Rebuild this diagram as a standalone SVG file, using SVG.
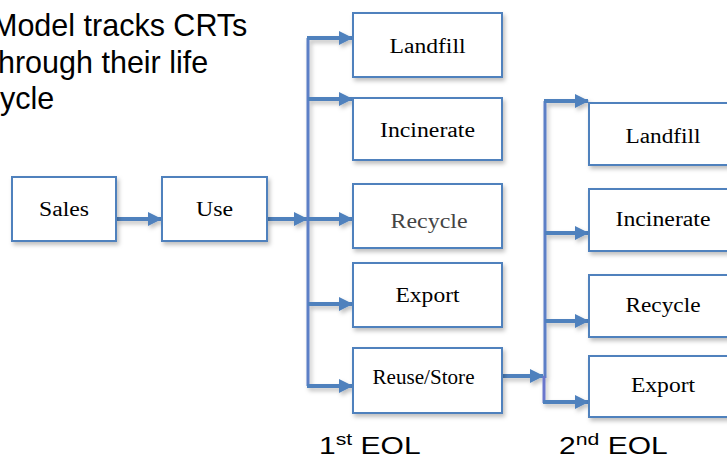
<svg xmlns="http://www.w3.org/2000/svg" width="727" height="463" viewBox="0 0 727 463">
<defs>
<filter id="sh" x="-20%" y="-20%" width="140%" height="160%">
<feDropShadow dx="2" dy="3" stdDeviation="2" flood-color="#000" flood-opacity="0.25"/>
</filter>
<marker id="ah" markerWidth="14" markerHeight="14" refX="13" refY="7" orient="auto" markerUnits="userSpaceOnUse">
<path d="M0,0 L14,7 L0,14 Z" fill="#4F81BD"/>
</marker>
</defs>
<style>
.box{fill:#fff;stroke:#4F81BD;stroke-width:2;filter:url(#sh)}
.lbl{font-family:"Liberation Serif","Times New Roman",serif;font-size:20px;fill:#000;text-anchor:middle}
.big{font-family:"Liberation Sans",Arial,sans-serif;font-size:30.5px;fill:#000}
.eol{font-family:"Liberation Sans",Arial,sans-serif;font-size:24px;fill:#000}
.arr{fill:none;stroke:#4F81BD;stroke-width:4;marker-end:url(#ah)}
.trk{fill:none;stroke:#5B7FC6;stroke-width:3}
</style>
<g id="title">
<text class="big" x="-8" y="36">Model tracks CRTs</text>
<text class="big" x="-2" y="73">hrough their life</text>
<text class="big" x="0" y="109">ycle</text>
</g>
<g id="connectors" filter="url(#sh)">
<path class="arr" d="M116,219 H161"/>
<path class="arr" d="M267,219 H307"/>
<path class="trk" d="M308,38 V386"/>
<path class="arr" d="M307,38 H352"/>
<path class="arr" d="M308,99 H352"/>
<path class="arr" d="M308,219 H352"/>
<path class="arr" d="M308,304 H352"/>
<path class="arr" d="M307,386 H352"/>
<path class="arr" d="M502,376 H543"/>
<path class="trk" d="M545,101 V378"/>
<path fill="none" stroke="#6A76CC" stroke-width="3" d="M544,376 V403"/>
<path class="arr" d="M544,101 H588"/>
<path class="arr" d="M545,233 H588"/>
<path class="arr" d="M545,321 H588"/>
<path class="arr" d="M543,402 H588"/>
</g>
<g id="sales"><rect class="box" x="12" y="177" width="104" height="64"/><text class="lbl" x="64" y="216" textLength="50" lengthAdjust="spacingAndGlyphs">Sales</text></g>
<g id="use"><rect class="box" x="162" y="177" width="105" height="64"/><text class="lbl" x="214.5" y="216" textLength="37" lengthAdjust="spacingAndGlyphs">Use</text></g>
<g id="landfill1"><rect class="box" x="353" y="13" width="149" height="64"/><text class="lbl" x="427.5" y="53" textLength="76" lengthAdjust="spacingAndGlyphs">Landfill</text></g>
<g id="incinerate1"><rect class="box" x="353" y="98" width="149" height="62"/><text class="lbl" x="427.5" y="137" textLength="95" lengthAdjust="spacingAndGlyphs">Incinerate</text></g>
<g id="recycle1"><rect class="box" x="353" y="184" width="149" height="64"/><text class="lbl" x="429" y="228" textLength="77" lengthAdjust="spacingAndGlyphs" style="fill:#444">Recycle</text></g>
<g id="export1"><rect class="box" x="353" y="263" width="149" height="64"/><text class="lbl" x="427.5" y="302" textLength="64" lengthAdjust="spacingAndGlyphs">Export</text></g>
<g id="reuse"><rect class="box" x="353" y="348" width="149" height="65"/><text class="lbl" x="423.5" y="384" textLength="102" lengthAdjust="spacingAndGlyphs">Reuse/Store</text></g>
<g id="landfill2"><rect class="box" x="589" y="103" width="149" height="62"/><text class="lbl" x="663" y="143" textLength="75" lengthAdjust="spacingAndGlyphs">Landfill</text></g>
<g id="incinerate2"><rect class="box" x="589" y="189" width="149" height="62"/><text class="lbl" x="663" y="226" textLength="95" lengthAdjust="spacingAndGlyphs">Incinerate</text></g>
<g id="recycle2"><rect class="box" x="589" y="275" width="149" height="62"/><text class="lbl" x="663" y="312" textLength="75" lengthAdjust="spacingAndGlyphs">Recycle</text></g>
<g id="export2"><rect class="box" x="589" y="356" width="149" height="61"/><text class="lbl" x="663" y="392" textLength="64" lengthAdjust="spacingAndGlyphs">Export</text></g>
<g id="eol1"><text class="eol" transform="translate(319,454) scale(1.25,1)" x="0" y="0">1<tspan font-size="17" dy="-9">st</tspan><tspan dy="9"> EOL</tspan></text></g>
<g id="eol2"><text class="eol" transform="translate(559,454) scale(1.25,1)" x="0" y="0">2<tspan font-size="17" dy="-9">nd</tspan><tspan dy="9"> EOL</tspan></text></g>
</svg>
